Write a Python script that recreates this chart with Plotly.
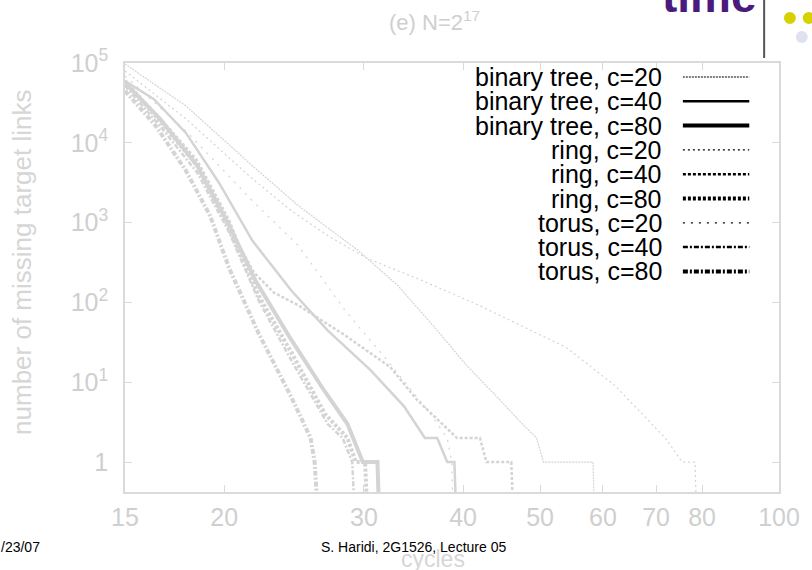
import plotly.graph_objects as go

# ---------------- data ----------------
series_names = [
    "binary tree, c=20", "binary tree, c=40", "binary tree, c=80",
    "ring, c=20", "ring, c=40", "ring, c=80",
    "torus, c=20", "torus, c=40", "torus, c=80",
]

bt20_x = [15, 17.9, 21.7, 24.8, 29.5, 33.1, 37.1, 40.4, 44.5, 47.5, 49.5, 50.5, 58.3, 58.8]
bt20_y = [97200, 29000, 5160, 1630, 447, 163, 44.7, 16.3, 6, 3, 2, 1, 1, 0]

bt40_x = [15, 16.3, 17.9, 19.7, 21.7, 24.3, 27.0, 30.6, 33.7, 35.8, 37.1, 38.2, 39.0, 39.4]
bt40_y = [59600, 35500, 13300, 3160, 596, 141, 44.7, 14.1, 5, 2, 2, 1, 1, 0]

bt80_x = [15, 16.6, 18.5, 20.3, 21.9, 24.1, 26.7, 28.6, 29.9, 31.2, 31.5]
bt80_y = [56200, 20000, 5160, 917, 188, 38.7, 8, 3, 1, 1, 0]

ring20_x = [15, 17.9, 21.7, 24.3, 27.0, 30.3, 35.0, 41.4, 53.9, 62.2, 71.9, 75.5, 78.4, 79.0]
ring20_y = [79400, 20000, 3550, 1410, 688, 355, 200, 97, 27.4, 9, 2, 1, 1, 0]

ring40_x = [15, 16.6, 18.5, 20.3, 20.9, 21.8, 23.1, 24.8, 28.4, 32.4, 35.0, 39.3, 42.0, 42.8, 46.0, 46.5]
ring40_y = [59600, 20500, 5960, 1060, 516, 237, 133, 92, 38.7, 15.4, 6, 2, 2, 1, 1, 0]

ring80_x = [15, 16.6, 18.5, 20.3, 22.1, 24.3, 26.8, 28.6, 29.3, 30.1, 30.5]
ring80_y = [59600, 18800, 5160, 841, 122, 23.7, 4, 2, 1, 1, 0]

torus20_x = [15, 17.9, 21.7, 24.8, 28.4, 32.1, 36.4, 38.2, 38.7, 39.0]
torus20_y = [68800, 14100, 1880, 516, 79.4, 18.8, 4, 2, 1, 0]

torus40_x = [15, 16.6, 18.5, 20.3, 22.1, 24.3, 27.0, 28.2, 29.0, 29.4]
torus40_y = [51600, 16300, 4220, 750, 106, 18.8, 3, 2, 1, 0]

torus80_x = [15, 16.4, 17.9, 19.2, 20.3, 22.1, 24.3, 25.7, 26.0, 26.5]
torus80_y = [44700, 16300, 4470, 1220, 266, 41, 6.5, 2, 1, 0]

x_tick_vals = [15, 20, 30, 40, 50, 60, 70, 80, 100]
x_tick_text = ["15", "20", "30", "40", "50", "60", "70", "80", "100"]
y_tick_vals = [1, 10, 100, 1000, 10000, 100000]
y_tick_text = ["1", "10<sup>1</sup>", "10<sup>2</sup>", "10<sup>3</sup>", "10<sup>4</sup>", "10<sup>5</sup>"]

title_text = "(e) N=2<sup>17</sup>"
x_title = "cycles"
y_title = "number of missing target links"
footer_left = "/23/07"
footer_mid = "S. Haridi, 2G1526, Lecture 05"
logo_text = "time"

# ---------------- styling ----------------
W, H = 812, 570
ML, MR, MT, MB = 125, 27, 63, 78
PW, PH = W - ML - MR, H - MT - MB
FONT = "Liberation Sans, Arial, Helvetica, sans-serif"
GRAY = "#d4d4d4"
AXIS = "#dadada"
TICKTXT = "#cfcfcf"

styles = [
    dict(width=1.2, dash="2px,1px"),          # binary tree c=20
    dict(width=2.5, dash="solid"),            # binary tree c=40
    dict(width=4.0, dash="solid"),            # binary tree c=80
    dict(width=1.2, dash="2px,3px"),          # ring c=20
    dict(width=2.5, dash="3px,2px"),          # ring c=40
    dict(width=4.0, dash="3px,2px"),          # ring c=80
    dict(width=1.2, dash="2px,6px"),          # torus c=20
    dict(width=2.5, dash="5px,2px,2px,2px"),  # torus c=40
    dict(width=4.0, dash="5px,2px,2px,2px"),  # torus c=80
]

xs_all = [bt20_x, bt40_x, bt80_x, ring20_x, ring40_x, ring80_x, torus20_x, torus40_x, torus80_x]
ys_all = [bt20_y, bt40_y, bt80_y, ring20_y, ring40_y, ring80_y, torus20_y, torus40_y, torus80_y]

FLOOR = 0.05  # a count of 0 is drawn below the log axis (clipped), as gnuplot does

fig = go.Figure()
for name, xs, ys, st in zip(series_names, xs_all, ys_all, styles):
    fig.add_trace(go.Scatter(
        x=xs, y=[v if v > 0 else FLOOR for v in ys], mode="lines", name=name,
        line=dict(color=GRAY, width=st["width"], dash=st["dash"]),
        showlegend=False, hoverinfo="skip",
    ))


def px(xp):
    return (xp - ML) / PW


def py(yp):
    return (H - MB - yp) / PH


annotations = []
shapes = []

# gnuplot-style key: text right-aligned, sample line on its right
row0, row_step = 77, 24.3
for i, (name, st) in enumerate(zip(series_names, styles)):
    yy = py(row0 + i * row_step)
    annotations.append(dict(text=name, xref="paper", yref="paper", x=px(669), y=yy,
                            xanchor="right", yanchor="middle", showarrow=False,
                            font=dict(family=FONT, size=25, color="black")))
    shapes.append(dict(type="line", xref="paper", yref="paper", x0=px(688), x1=px(755),
                       y0=yy, y1=yy, line=dict(color="black", width=st["width"], dash=st["dash"])))

# titles
annotations.append(dict(text=title_text, xref="paper", yref="paper", x=px(437), y=py(21),
                        xanchor="center", yanchor="middle", showarrow=False,
                        font=dict(family=FONT, size=22, color=TICKTXT)))
annotations.append(dict(text=y_title, xref="paper", yref="paper", x=px(21), y=py(262),
                        xanchor="center", yanchor="middle", showarrow=False, textangle=-90,
                        font=dict(family=FONT, size=26, color="#d6d6d6")))
annotations.append(dict(text=x_title, xref="paper", yref="paper", x=px(436), y=py(559),
                        xanchor="center", yanchor="middle", showarrow=False,
                        font=dict(family=FONT, size=23, color="#d6d6d6")))
# slide footer
annotations.append(dict(text=footer_left, xref="paper", yref="paper", x=px(-2), y=py(547),
                        xanchor="left", yanchor="middle", showarrow=False,
                        font=dict(family=FONT, size=14, color="black")))
annotations.append(dict(text=footer_mid, xref="paper", yref="paper", x=px(416), y=py(547),
                        xanchor="center", yanchor="middle", showarrow=False,
                        font=dict(family=FONT, size=14, color="black")))
# slide header logo remains
annotations.append(dict(text="<b>" + logo_text + "</b>", xref="paper", yref="paper", x=px(765), y=py(24),
                        xanchor="right", yanchor="bottom", showarrow=False,
                        font=dict(family=FONT, size=46, color="#4a1a7c")))
shapes.append(dict(type="line", xref="paper", yref="paper", x0=px(770), x1=px(770),
                   y0=py(-2), y1=py(58), line=dict(color="#555555", width=2)))
for cx, cy, r, col in [(796, 18, 6, "#d6d200"), (815, 18, 6, "#d6d200"), (808, 37, 6, "#dfe0f0")]:
    shapes.append(dict(type="circle", xref="paper", yref="paper",
                       x0=px(cx - r), x1=px(cx + r), y0=py(cy + r), y1=py(cy - r),
                       fillcolor=col, line=dict(width=0)))

axis_common = dict(showline=True, linecolor=AXIS, linewidth=1.5, mirror="ticks",
                   ticks="inside", ticklen=7, tickcolor=AXIS, tickwidth=1,
                   showgrid=False, zeroline=False,
                   tickfont=dict(family=FONT, size=25, color=TICKTXT))

fig.update_layout(
    width=W, height=H,
    margin=dict(l=ML, r=MR, t=MT, b=MB, pad=0),
    paper_bgcolor="white", plot_bgcolor="white",
    showlegend=False,
    xaxis=dict(type="log", range=[1.17609, 2.0], tickvals=x_tick_vals, ticktext=x_tick_text,
               ticklabelstandoff=2, **axis_common),
    yaxis=dict(type="log", range=[-0.375, 5.0], tickvals=y_tick_vals, ticktext=y_tick_text,
               ticklabelstandoff=10, **axis_common),
    annotations=annotations,
    shapes=shapes,
)

fig.write_html("out.html")
